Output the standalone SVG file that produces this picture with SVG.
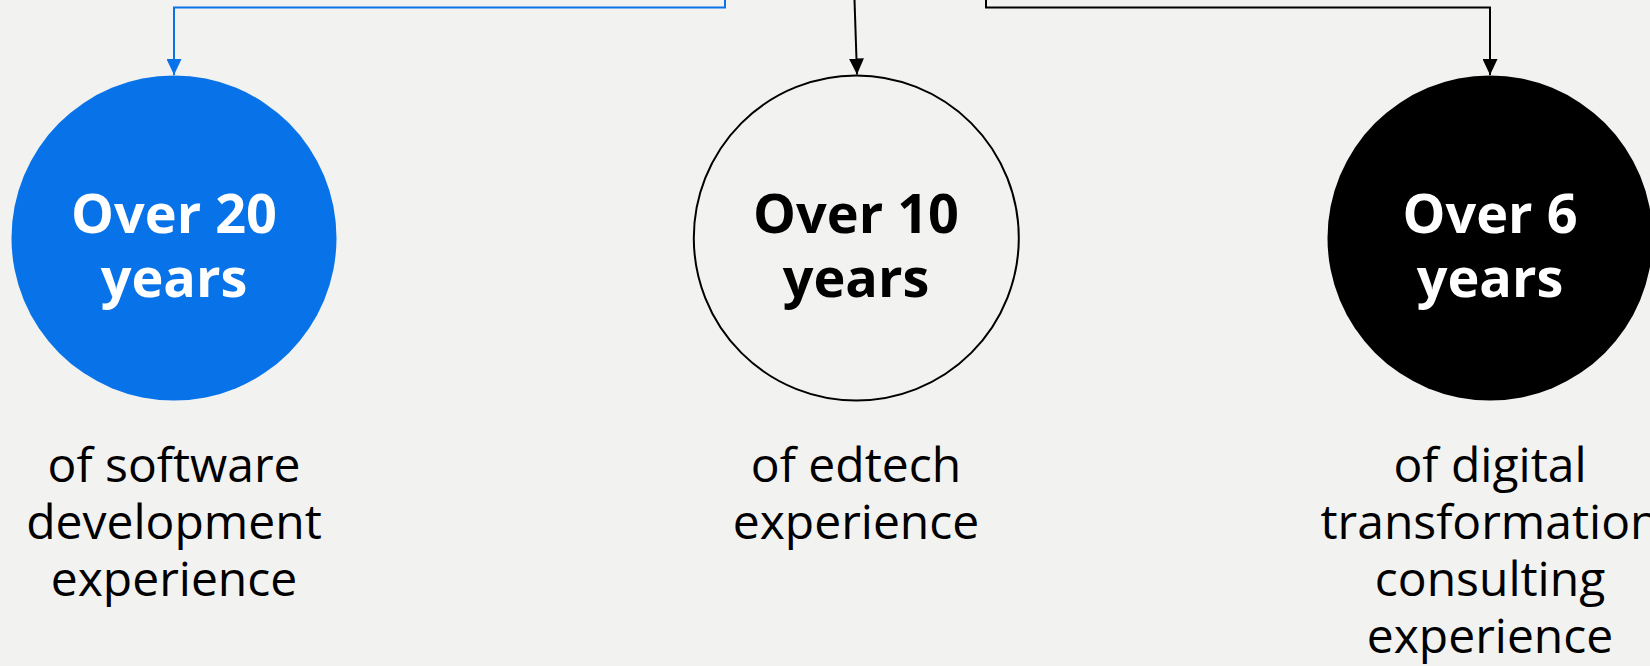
<svg xmlns="http://www.w3.org/2000/svg" width="1650" height="666" viewBox="0 0 1650 666">
<defs>
<marker id="arrBlue" viewBox="0 0 16 15" refX="16" refY="7.5" markerWidth="16" markerHeight="15" markerUnits="userSpaceOnUse" orient="auto">
<path d="M0,0 L16,7.5 L0,15 Z" fill="#0873e8"/>
</marker>
<marker id="arrBlack" viewBox="0 0 16 15" refX="16" refY="7.5" markerWidth="16" markerHeight="15" markerUnits="userSpaceOnUse" orient="auto">
<path d="M0,0 L16,7.5 L0,15 Z" fill="#000"/>
</marker>
<style>
.big{font-family:"Open Sans","Noto Sans",sans-serif;font-weight:700;font-size:54px;text-anchor:middle}
.small{font-family:"Open Sans","Noto Sans",sans-serif;font-weight:400;font-size:48px;text-anchor:middle;fill:#000}
.conn{fill:none;stroke-width:2}
</style>
</defs>
<rect width="1650" height="666" fill="#f2f2f1"/>
<g id="connectors">
<path class="conn" d="M725,0 V7.5 H174 V75" stroke="#0873e8" marker-end="url(#arrBlue)"/>
<path class="conn" d="M854.5,0 L857,74.5" stroke="#000" marker-end="url(#arrBlack)"/>
<path class="conn" d="M986,0 V7.5 H1490 V75" stroke="#000" marker-end="url(#arrBlack)"/>
</g>
<g id="node-20">
<circle cx="174" cy="238" r="162.5" fill="#0873e8"/>
<text class="big" fill="#fff"><tspan x="174" y="233">Over 20</tspan><tspan x="174" y="297">years</tspan></text>
<text class="small"><tspan x="174" y="482">of software</tspan><tspan x="174" y="539">development</tspan><tspan x="174" y="596">experience</tspan></text>
</g>
<g id="node-10">
<circle cx="856.3" cy="238" r="162.5" fill="none" stroke="#000" stroke-width="2"/>
<text class="big" fill="#000"><tspan x="856" y="233">Over 10</tspan><tspan x="856" y="297">years</tspan></text>
<text class="small"><tspan x="856" y="482">of edtech</tspan><tspan x="856" y="539">experience</tspan></text>
</g>
<g id="node-6">
<circle cx="1490" cy="238" r="162.5" fill="#000"/>
<text class="big" fill="#fff"><tspan x="1490" y="233">Over 6</tspan><tspan x="1490" y="297">years</tspan></text>
<text class="small"><tspan x="1490" y="482">of digital</tspan><tspan x="1490" y="539">transformation</tspan><tspan x="1490" y="596">consulting</tspan><tspan x="1490" y="653">experience</tspan></text>
</g>
</svg>
